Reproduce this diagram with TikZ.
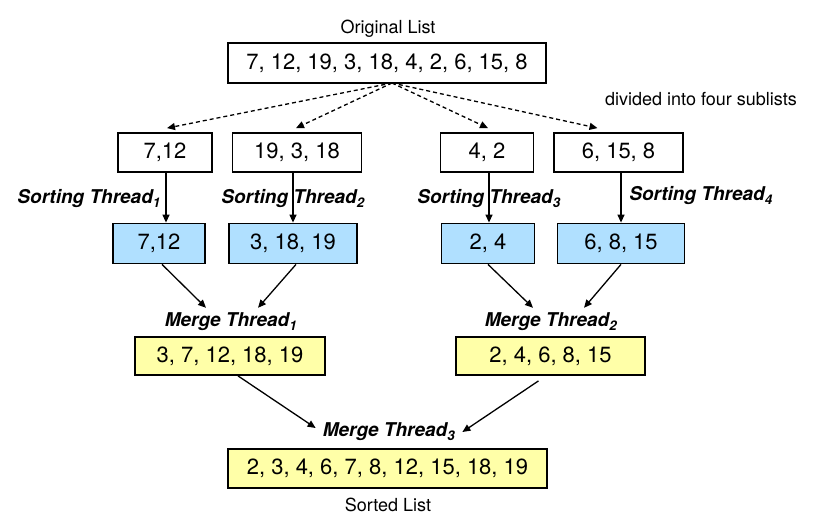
\documentclass[tikz,border=0pt]{standalone}
\usepackage{fontspec}
\setmainfont{TeX Gyre Heros}
\usetikzlibrary{arrows.meta, positioning, calc}
\definecolor{sortblue}{HTML}{B0E0FF}
\definecolor{mergeyellow}{HTML}{FFFFA8}
\tikzstyle{listbox} = [rectangle, draw=black, line width=1.8pt, inner sep=0pt, minimum height=39pt,
                       text centered, font=\fontsize{22}{24}\selectfont]
\tikzstyle{arrow} = [line width=1.3pt, -{Triangle[length=8pt,width=7pt]}]

\begin{document}
\begin{tikzpicture}[
    x=1pt, y=-1pt,
    sortedbox/.style={listbox, fill=sortblue},
    mergedbox/.style={listbox, fill=mergeyellow},
    threadlabel/.style={font=\fontsize{19}{21}\selectfont\bfseries\itshape, inner sep=1pt},
    caption/.style={font=\fontsize{18}{20}\selectfont, inner sep=1pt},
]
\useasboundingbox (0,0) rectangle (821,524);

% Original list
\node[caption] (origlabel) at (388, 29) {Original List};
\node[listbox, minimum width=318pt, minimum height=40pt] (orig) at (387, 63) {7, 12, 19, 3, 18, 4, 2, 6, 15, 8};
\node[caption] (divlabel) at (701, 99) {divided into four sublists};
\coordinate (split) at (392, 83);

% Sublists
\node[listbox, minimum width=94pt] (sub1) at (165, 152.5) {7,12};
\node[listbox, minimum width=129pt] (sub2) at (297, 152.5) {19, 3, 18};
\node[listbox, minimum width=93pt] (sub3) at (487, 152.5) {4, 2};
\node[listbox, minimum width=129pt] (sub4) at (618.5, 152.5) {6, 15, 8};

% Sorted sublists
\node[sortedbox, minimum width=92pt, minimum height=40pt] (srt1) at (159, 243.5) {7,12};
\node[sortedbox, minimum width=128pt, minimum height=40pt] (srt2) at (293, 243.5) {3, 18, 19};
\node[sortedbox, minimum width=93pt, minimum height=40pt] (srt3) at (488, 243.5) {2, 4};
\node[sortedbox, minimum width=127pt, minimum height=40pt] (srt4) at (621, 243.5) {6, 8, 15};

% Merged lists
\node[mergedbox, minimum width=190pt, minimum height=38pt] (mrg1) at (230, 356) {3, 7, 12, 18, 19};
\node[mergedbox, minimum width=189pt, minimum height=38pt] (mrg2) at (550.5, 356) {2, 4, 6, 8, 15};
\node[mergedbox, minimum width=319pt] (final) at (387.5, 468.5) {2, 3, 4, 6, 7, 8, 12, 15, 18, 19};
\node[caption] (sortedlabel) at (388, 505) {Sorted List};

% Dashed split arrows
\draw[arrow, dash pattern=on 4pt off 3pt] (split) -- ([xshift=2pt,yshift=4pt]sub1.north);
\draw[arrow, dash pattern=on 4pt off 3pt] (split) -- ([xshift=-1pt,yshift=4pt]sub2.north);
\draw[arrow, dash pattern=on 4pt off 3pt] (split) -- ([xshift=1pt,yshift=4pt]sub3.north);
\draw[arrow, dash pattern=on 4pt off 3pt] (split) -- ([xshift=-21pt,yshift=4pt]sub4.north);

% Sorting threads
\draw[arrow] ([xshift=1pt]sub1.south) -- ([xshift=1pt]sub1.south |- srt1.north);
\draw[arrow] ([xshift=-4pt]sub2.south) -- ([xshift=-4pt]sub2.south |- srt2.north);
\draw[arrow] ([xshift=2pt]sub3.south) -- ([xshift=2pt]sub3.south |- srt3.north);
\draw[arrow] ([xshift=2.5pt]sub4.south) -- ([xshift=2.5pt]sub4.south |- srt4.north);

\node[threadlabel, anchor=east] (sort1) at (162, 199) {Sorting Thread\textsubscript{1}};
\node[threadlabel] (sort2) at (293, 199) {Sorting Thread\textsubscript{2}};
\node[threadlabel] (sort3) at (489, 199) {Sorting Thread\textsubscript{3}};
\node[threadlabel] (sort4) at (701, 196) {Sorting Thread\textsubscript{4}};

% Merge threads
\node[threadlabel] (merge1) at (231, 322) {Merge Thread\textsubscript{1}};
\node[threadlabel] (merge2) at (551, 322) {Merge Thread\textsubscript{2}};
\node[threadlabel] (merge3) at (389, 432) {Merge Thread\textsubscript{3}};

\draw[arrow] ([xshift=3pt]srt1.south) -- ([xshift=-25pt,yshift=4pt]merge1.north);
\draw[arrow] ([xshift=3pt]srt2.south) -- ([xshift=27pt,yshift=4pt]merge1.north);
\draw[arrow] (srt3.south) -- ([xshift=-18pt,yshift=4pt]merge2.north);
\draw[arrow] (srt4.south) -- ([xshift=33pt,yshift=4pt]merge2.north);

\draw[arrow] ([xshift=8pt]mrg1.south) -- ([xshift=-6pt,yshift=4pt]merge3.west);
\draw[arrow] ([xshift=-12pt,yshift=-5pt]mrg2.south) -- ([xshift=6pt]merge3.east);

\end{tikzpicture}
\end{document}
